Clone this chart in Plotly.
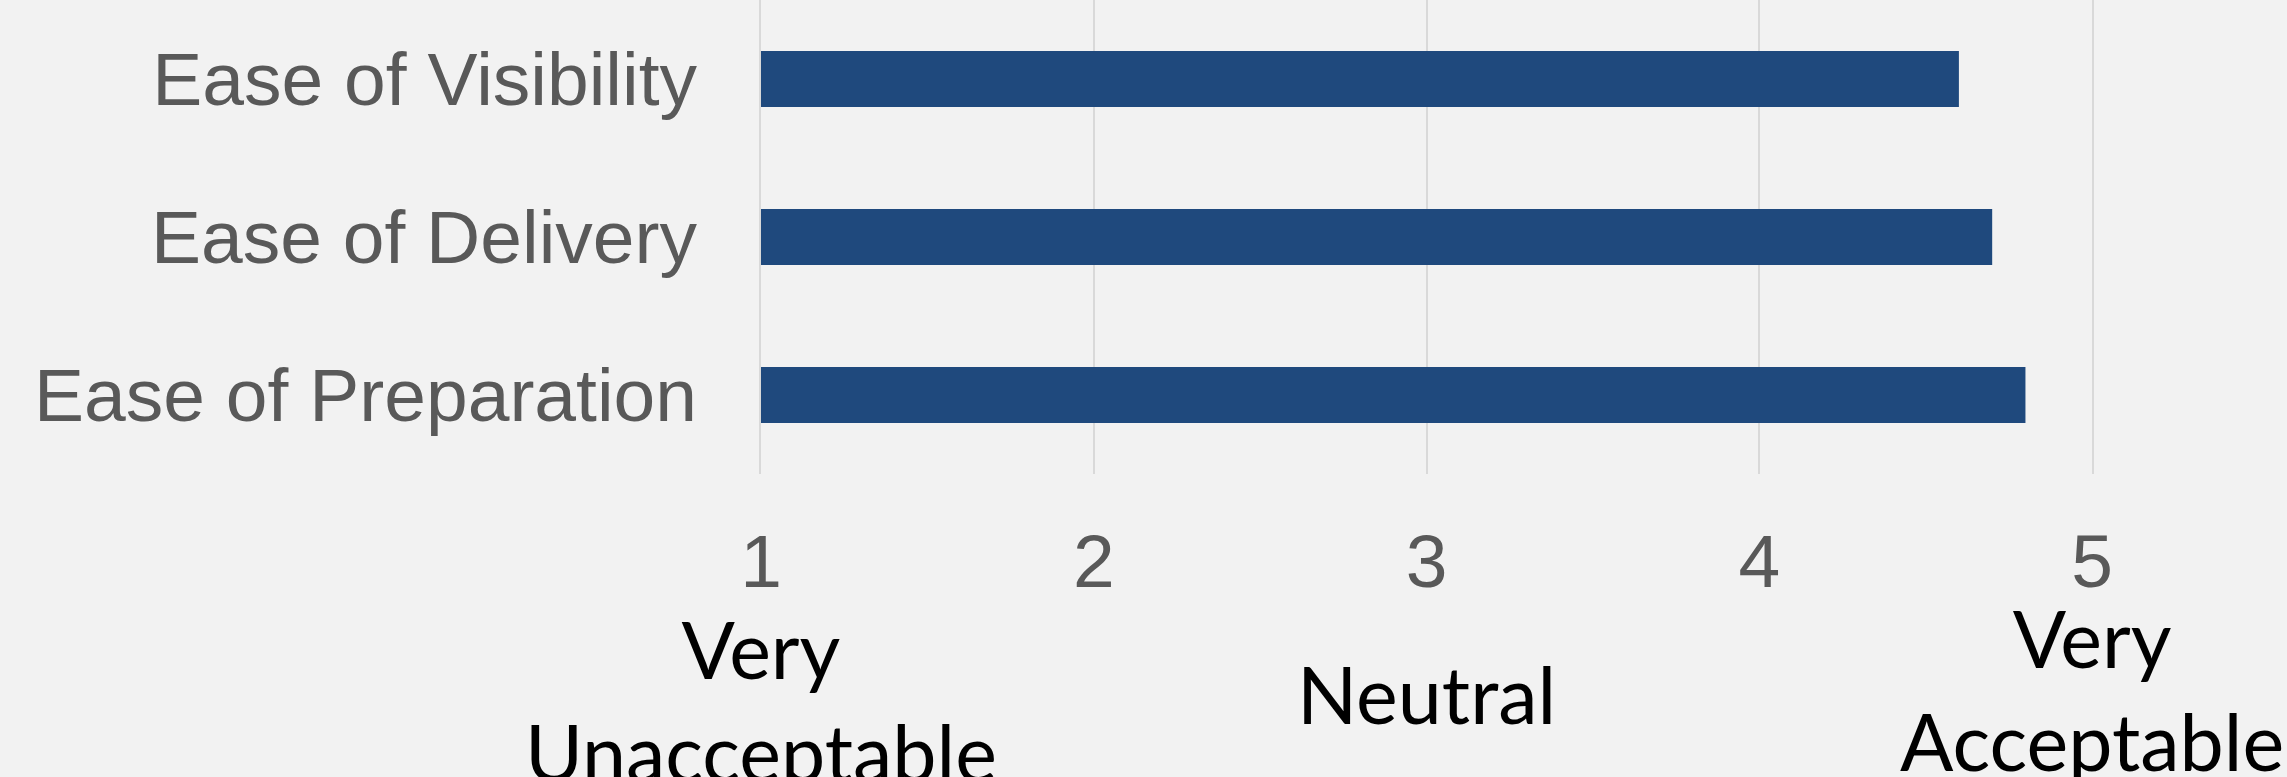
import plotly.graph_objects as go

categories = ["Ease of Visibility", "Ease of Delivery", "Ease of Preparation"]
values = [4.60, 4.70, 4.80]
tick_vals = [1, 2, 3, 4, 5]
tick_text = ["1", "2", "3", "4", "5"]
scale_labels = ["Very<br>Unacceptable", "Neutral", "Very<br>Acceptable"]
scale_label_x = [1, 3, 5]
scale_label_y = [-0.476, -0.463, -0.453]

W, H = 2287, 777
fig = go.Figure()
fig.add_trace(go.Bar(
    y=categories, x=values, orientation="h",
    marker=dict(color="#1F497D", line=dict(width=0)),
))

for t, xv, yv in zip(scale_labels, scale_label_x, scale_label_y):
    fig.add_annotation(text=t, x=xv, y=yv, xref="x", yref="paper",
                       showarrow=False, xanchor="center", yanchor="middle",
                       font=dict(family="Lato, Carlito, Open Sans, sans-serif", size=79, color="#000000"))

fig.update_layout(
    width=W, height=H,
    margin=dict(l=761, r=195, t=0, b=303, pad=0),
    paper_bgcolor="#F2F2F2", plot_bgcolor="#F2F2F2",
    showlegend=False,
    bargap=0.646,
)
fig.update_xaxes(
    range=[1, 5], tickvals=tick_vals, ticktext=tick_text,
    showgrid=True, gridcolor="#D9D9D9", gridwidth=2,
    zeroline=False, showline=False, ticks="",
    tickfont=dict(family="Liberation Sans, Arial, sans-serif", size=75, color="#595959"),
    ticklabelstandoff=37, automargin=False,
)
fig.update_yaxes(
    categoryorder="array", categoryarray=categories[::-1],
    showgrid=False, zeroline=False,
    showline=True, linecolor="#D9D9D9", linewidth=2, mirror=True, layer="below traces",
    ticks="",
    tickfont=dict(family="Liberation Sans, Arial, sans-serif", size=75, color="#595959"),
    ticklabelstandoff=47, automargin=False,
)
fig.write_html("out.html")
